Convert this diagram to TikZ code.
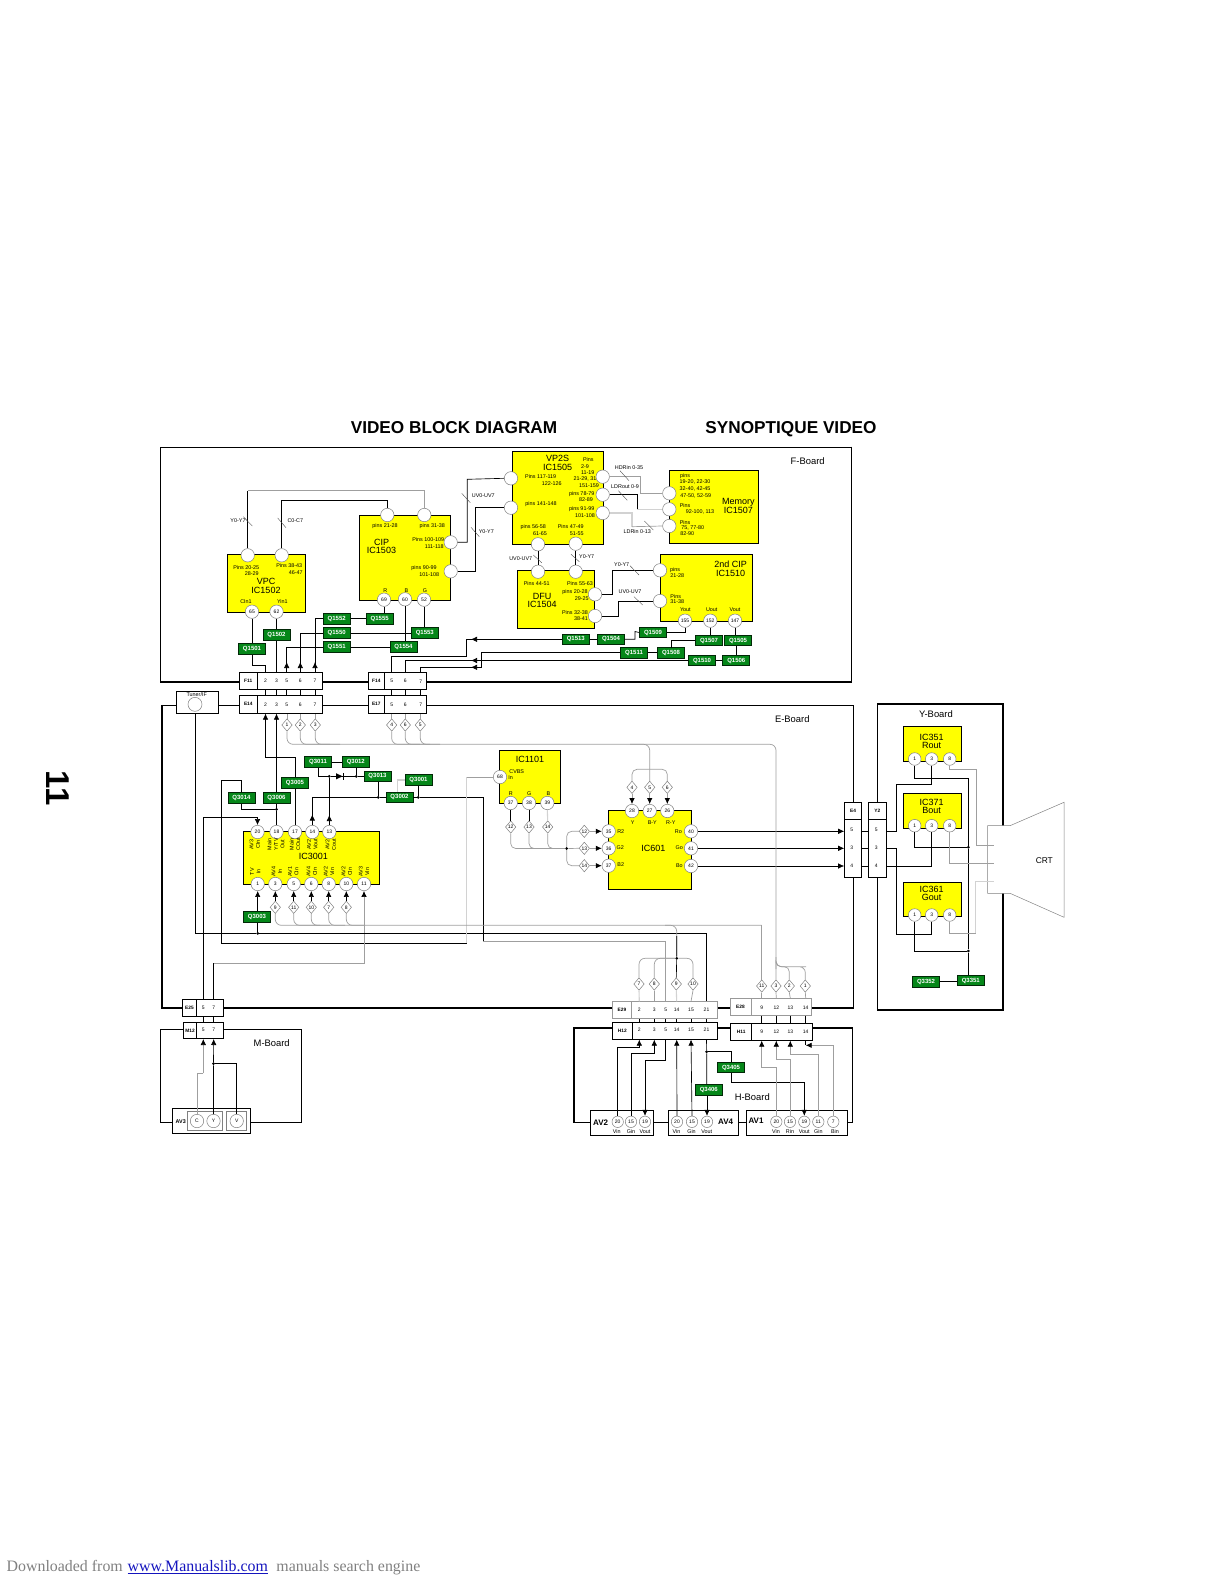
\documentclass[tikz,border=0pt]{standalone}
\usepackage{fontspec}
\setmainfont{Liberation Sans}
\newfontfamily\dlfont{Liberation Serif}
\usepackage{xcolor}
\usepackage{tikz}
\usetikzlibrary{shapes.geometric, arrows.meta, positioning}
\definecolor{icYellow}{RGB}{255, 255, 0}
\definecolor{qGreen}{RGB}{5, 135, 25}
\definecolor{linkBlue}{RGB}{20, 20, 190}
\tikzset{
  board/.style={
    rectangle, draw=black, line width=0.9pt, inner sep=0pt
  },
  thickedge/.style={
    draw=black, line width=1.7pt
  },
  icnode/.style={
    rectangle, draw=black, fill=icYellow, line width=1pt, inner sep=0pt
  },
  pinnode/.style={
    circle, draw=gray, fill=white, line width=0.5pt,
    minimum size=13.4pt, inner sep=0pt,
    font=\fontsize{5}{6}\selectfont
  },
  qnode/.style={
    rectangle, draw=black!70!qGreen, fill=qGreen, text=white, line width=0.7pt,
    minimum width=27pt, minimum height=10.6pt, inner sep=0pt,
    font=\fontsize{6}{6}\selectfont\bfseries
  },
  diamnode/.style={
    diamond, draw=gray, fill=white, line width=0.5pt,
    minimum width=10.5pt, minimum height=12.5pt, inner sep=0pt,
    font=\fontsize{5}{5}\selectfont
  },
  cell/.style={
    rectangle, draw=black, fill=white, line width=0.6pt, inner sep=0pt,
    font=\fontsize{4.8}{5}\selectfont\bfseries
  },
  greycell/.style={
    cell, draw=gray!80
  },
  connum/.style={
    inner sep=0pt, font=\fontsize{5}{6}\selectfont
  },
  dotnode/.style={
    circle, fill=black, minimum size=3pt, inner sep=0pt
  },
  smalltxt/.style={
    inner sep=0pt, align=center, font=\fontsize{5.4}{6.5}\selectfont
  },
  icname/.style={
    inner sep=0pt, align=center, font=\fontsize{9}{9}\selectfont
  },
  boardname/.style={
    inner sep=0pt, font=\fontsize{9.4}{10}\selectfont
  },
  titletxt/.style={
    inner sep=0pt, anchor=base, font=\fontsize{17.2}{18}\selectfont\bfseries
  },
  dltxt/.style={
    inner sep=0pt, anchor=base west, font=\dlfont\fontsize{15.9}{18}\selectfont, text=gray
  },
  wire/.style={
    draw=black, line width=0.65pt
  },
  greywire/.style={
    draw=gray!75, line width=0.7pt
  },
  palewire/.style={
    draw=gray!35, line width=1.1pt
  },
  slash/.style={
    draw=black!70, line width=0.4pt
  },
  tipwire/.style={
    wire, -{Latex[length=6pt,width=5.5pt]}
  },
  greytip/.style={
    greywire, -{Latex[length=6pt,width=5.5pt,black]}
  }
}
\begin{document}
\begin{tikzpicture}[x=1pt,y=-1pt]
  \useasboundingbox (0,0) rectangle (1224,1584);

  \node[titletxt] (title) at (454,433.2) {VIDEO BLOCK DIAGRAM};
  \node[titletxt] (titlefr) at (791,433.2) {SYNOPTIQUE VIDEO};
  \node[inner sep=0pt, rotate=-90, font=\fontsize{33}{33}\selectfont\bfseries] (pageno) at (58,788) {11};
  \node[dltxt] (dl) at (6.5,1571.5) {Downloaded from};
  \node[dltxt, text=linkBlue, right=4.5pt of dl.base east, anchor=base west] (dllink) {\underline{www.Manualslib.com}};
  \node[dltxt, right=8pt of dllink.base east, anchor=base west] (dlrest) {manuals search engine};

  \node[board, minimum width=691pt, minimum height=234.7pt] (fboard) at (505.5,564.3) {};
  \draw[thickedge] (fboard.north east) |- (fboard.south west);
  \node[board, minimum width=690.6pt, minimum height=302.4pt] (eboard) at (508,856.5) {};
  \draw[thickedge] (eboard.north west) |- (eboard.south east);
  \node[board, minimum width=124.6pt, minimum height=305.3pt] (yboard) at (940,856.6) {};
  \draw[thickedge] (yboard.south west) -| (yboard.north east) -- (yboard.north west);
  \node[board, minimum width=141pt, minimum height=92.6pt] (mboard) at (230.5,1076) {};
  \draw[thickedge] (mboard.north east) -- (mboard.south east);
  \node[board, minimum width=278pt, minimum height=93.6pt] (hboard) at (713.7,1075.5) {};
  \draw[thickedge] (hboard.south west) |- (hboard.north east);

  \node[boardname] (fname) at (807.7,461.3) {F-Board};
  \node[boardname] (ename) at (792.3,719) {E-Board};
  \node[boardname] (yname) at (936,714.3) {Y-Board};
  \node[boardname] (mname) at (271.7,1043.3) {M-Board};
  \node[boardname] (hname) at (752.3,1096.7) {H-Board};

  \node[icnode, minimum width=77.5pt, minimum height=57.5pt] (vpc) at (266.25,583.25) {};
  \node[icnode, minimum width=91.4pt, minimum height=85.4pt] (cip) at (405,558) {};
  \node[icnode, minimum width=91.3pt, minimum height=92.3pt] (vpps) at (557.65,497.85) {};
  \node[icnode, minimum width=89pt, minimum height=72.6pt] (memory) at (713.8,507) {};
  \node[icnode, minimum width=77pt, minimum height=57.6pt] (dfu) at (556.2,599.5) {};
  \node[icnode, minimum width=92.4pt, minimum height=66.7pt] (cipb) at (706.5,587.65) {};
  \node[icnode, minimum width=135.6pt, minimum height=52.6pt] (ica) at (311.5,858) {};
  \node[icnode, minimum width=61.3pt, minimum height=52.6pt] (icb) at (529.65,777) {};
  \node[icnode, minimum width=82.3pt, minimum height=78.6pt] (icc) at (649.85,850) {};
  \node[icnode, minimum width=58pt, minimum height=34.3pt] (icr) at (932.3,743.85) {};
  \node[icnode, minimum width=58pt, minimum height=34.7pt] (icbl) at (932.3,810.65) {};
  \node[icnode, minimum width=58pt, minimum height=34.4pt] (icg) at (932.3,899.5) {};

  \node[icname] (vpcname) at (266,586) {VPC\\[-0.5pt]IC1502};
  \node[icname] (cipname) at (381.5,546.5) {CIP\\[-0.5pt]IC1503};
  \node[icname] (vppsname) at (557.7,462.7) {VP2S\\[-0.5pt]IC1505};
  \node[icname] (memname) at (738.3,505.8) {Memory\\[0.5pt]IC1507};
  \node[icname] (dfuname) at (542.2,600.5) {DFU\\[-0.5pt]IC1504};
  \node[icname] (cipbname) at (730.7,568.7) {2nd CIP\\[-0.5pt]IC1510};
  \node[icname] (icaname) at (313.3,856.7) {IC3001};
  \node[icname] (icbname) at (530,759) {IC1101};
  \node[icname] (iccname) at (653.3,848) {IC601};
  \node[icname] (icrname) at (931.5,741.6) {IC351\\[-0.5pt]Rout};
  \node[icname] (icblname) at (931.7,806.6) {IC371\\[-0.5pt]Bout};
  \node[icname] (icgname) at (931.5,893.2) {IC361\\[-0.5pt]Gout};

  \node[smalltxt] (t1) at (246.3,567.3) {Pins 20-25};
  \node[smalltxt] (t2) at (251.7,573.3) {28-29};
  \node[smalltxt] (t3) at (289.3,566) {Pins 38-43};
  \node[smalltxt] (t4) at (295.7,573) {46-47};
  \node[smalltxt] (t5) at (246,602) {CIn1};
  \node[smalltxt] (t6) at (282.3,601.3) {Yin1};
  \node[smalltxt] (t7) at (385,526) {pins 21-28};
  \node[smalltxt] (t8) at (432.3,526) {pins 31-38};
  \node[smalltxt] (t9) at (428.3,540) {Pins 100-109};
  \node[smalltxt] (t10) at (434.3,547) {111-118};
  \node[smalltxt] (t11) at (424,568.3) {pins 90-99};
  \node[smalltxt] (t12) at (429.3,574.3) {101-108};
  \node[smalltxt] (t13) at (385.3,590.3) {R};
  \node[smalltxt] (t14) at (406.3,590.3) {B};
  \node[smalltxt] (t15) at (425,590.3) {G};
  \node[smalltxt] (t16) at (588.3,460) {Pins};
  \node[smalltxt] (t17) at (585,466.7) {2-9};
  \node[smalltxt] (t18) at (587.7,472.7) {11-19};
  \node[smalltxt] (t19) at (585,479) {21-29, 31};
  \node[smalltxt] (t20) at (589,485.3) {151-159};
  \node[smalltxt] (t21) at (540.7,476.3) {Pins 117-119};
  \node[smalltxt] (t22) at (551.7,483.7) {122-126};
  \node[smalltxt] (t23) at (541,504.3) {pins 141-148};
  \node[smalltxt] (t24) at (581.7,494.3) {pins 78-79};
  \node[smalltxt] (t25) at (586,500) {82-89};
  \node[smalltxt] (t26) at (581.7,509.3) {pins 91-99};
  \node[smalltxt] (t27) at (585,516) {101-108};
  \node[smalltxt] (t28) at (533.3,527.3) {pins 56-58};
  \node[smalltxt] (t29) at (540,533.7) {61-65};
  \node[smalltxt] (t30) at (570.7,527) {Pins 47-49};
  \node[smalltxt] (t31) at (576.7,533.3) {51-55};
  \node[smalltxt] (t32) at (685,476.3) {pins};
  \node[smalltxt] (t33) at (695,482) {19-20, 22-30};
  \node[smalltxt] (t34) at (695,489) {32-40, 42-45};
  \node[smalltxt] (t35) at (695.7,495.7) {47-50, 52-59};
  \node[smalltxt] (t36) at (685,506) {Pins};
  \node[smalltxt] (t37) at (700,511.7) {92-100, 113};
  \node[smalltxt] (t38) at (685,522.7) {Pins};
  \node[smalltxt] (t39) at (692.7,527.7) {75, 77-80};
  \node[smalltxt] (t40) at (687.3,534) {82-90};
  \node[smalltxt] (t41) at (536.7,584) {Pins 44-51};
  \node[smalltxt] (t42) at (580,583.3) {Pins 55-63};
  \node[smalltxt] (t43) at (575,592) {pins 20-28};
  \node[smalltxt] (t44) at (581.7,598.3) {29-25};
  \node[smalltxt] (t45) at (575,612.3) {Pins 32-38};
  \node[smalltxt] (t46) at (581,618.3) {38-41};
  \node[smalltxt] (t47) at (675,569.7) {pins};
  \node[smalltxt] (t48) at (677.3,575.3) {21-28};
  \node[smalltxt] (t49) at (675.7,596.3) {Pins};
  \node[smalltxt] (t50) at (677.3,601.7) {31-38};
  \node[smalltxt] (t51) at (685.3,610) {Yout};
  \node[smalltxt] (t52) at (711.7,610) {Uout};
  \node[smalltxt] (t53) at (735,609.3) {Vout};

  \node[smalltxt] (l1) at (238,521) {Y0-Y7};
  \node[smalltxt] (l2) at (295.3,521) {C0-C7};
  \node[smalltxt] (l3) at (483.3,496) {UV0-UV7};
  \node[smalltxt] (l4) at (486.3,531.7) {Y0-Y7};
  \node[smalltxt] (l5) at (629,467.3) {HDRin 0-35};
  \node[smalltxt] (l6) at (625,487) {LDRout 0-9};
  \node[smalltxt] (l7) at (637.3,532) {LDRin 0-13};
  \node[smalltxt] (l8) at (520.7,558.3) {UV0-UV7};
  \node[smalltxt] (l9) at (586.7,557) {Y0-Y7};
  \node[smalltxt] (l10) at (621.7,565) {Y0-Y7};
  \node[smalltxt] (l11) at (630,591.7) {UV0-UV7};

  \node[pinnode] (vpca) at (247.7,555.3) {};
  \node[pinnode] (vpcb) at (281.7,555.3) {};
  \node[pinnode] (p65) at (252,611.7) {65};
  \node[pinnode] (p62) at (276.5,611.7) {62};
  \node[pinnode] (cipa) at (387.3,515) {};
  \node[pinnode] (cipc) at (424.3,515) {};
  \node[pinnode] (cipd) at (450.7,542.3) {};
  \node[pinnode] (cipe) at (450.7,571.3) {};
  \node[pinnode] (p69) at (384,599.7) {69};
  \node[pinnode] (p60) at (405,599.3) {60};
  \node[pinnode] (p52) at (424,599.7) {52};
  \node[pinnode] (vppsa) at (511,478.3) {};
  \node[pinnode] (vppsb) at (511,507.7) {};
  \node[pinnode] (vppsc) at (602.7,476.7) {};
  \node[pinnode] (vppsd) at (602.7,494.7) {};
  \node[pinnode] (vppse) at (602.7,513) {};
  \node[pinnode] (vppsf) at (538,544.3) {};
  \node[pinnode] (vppsg) at (575.7,543.7) {};
  \node[pinnode] (mema) at (669.3,493.3) {};
  \node[pinnode] (memb) at (669.3,509.3) {};
  \node[pinnode] (memc) at (669.3,526) {};
  \node[pinnode] (dfua) at (538,571.7) {};
  \node[pinnode] (dfub) at (575.7,571.7) {};
  \node[pinnode] (dfuc) at (595,594.3) {};
  \node[pinnode] (dfud) at (595,616) {};
  \node[pinnode] (cipba) at (660,570.3) {};
  \node[pinnode] (cipbb) at (660,601) {};
  \node[pinnode] (p155) at (685,620.7) {155};
  \node[pinnode] (p152) at (710.3,620.7) {152};
  \node[pinnode] (p147) at (735,620.7) {147};

  \node[qnode] (q1501) at (252,649) {Q1501};
  \node[qnode] (q1502) at (276.5,635) {Q1502};
  \node[qnode] (q1552) at (336.7,618.6) {Q1552};
  \node[qnode] (q1550) at (336.7,633) {Q1550};
  \node[qnode] (q1551) at (336.7,647) {Q1551};
  \node[qnode] (q1555) at (379.7,618.6) {Q1555};
  \node[qnode] (q1553) at (424.8,633) {Q1553};
  \node[qnode] (q1554) at (403.5,647) {Q1554};
  \node[qnode] (q1513) at (575.8,639.3) {Q1513};
  \node[qnode] (q1504) at (611,639.3) {Q1504};
  \node[qnode] (q1509) at (653,632.5) {Q1509};
  \node[qnode] (q1507) at (709,640.5) {Q1507};
  \node[qnode] (q1505) at (738,640.5) {Q1505};
  \node[qnode] (q1511) at (634,652.7) {Q1511};
  \node[qnode] (q1508) at (671,652.7) {Q1508};
  \node[qnode] (q1510) at (702,660.5) {Q1510};
  \node[qnode] (q1506) at (736.3,660.5) {Q1506};

  \node[cell, minimum width=17.7pt, minimum height=16.7pt] (f11l) at (248.2,680.7) {F11};
  \node[cell, minimum width=65.7pt, minimum height=16.7pt] (f11) at (289.9,680.7) {};
  \node[connum] (f11n2) at (265.5,681) {2};
  \node[connum] (f11n3) at (276.5,681) {3};
  \node[connum] (f11n5) at (286.7,681) {5};
  \node[connum] (f11n6) at (300.3,681) {6};
  \node[connum] (f11n7) at (315,680.5) {7};
  \node[cell, minimum width=16pt, minimum height=16.7pt] (f14l) at (376.3,680.7) {F14};
  \node[cell, minimum width=42.4pt, minimum height=16.7pt] (f14) at (405.5,680.7) {};
  \node[connum] (f14n5) at (391.7,681) {5};
  \node[connum] (f14n6) at (405.3,681) {6};
  \node[connum] (f14n7) at (420.7,681.5) {7};
  \node[cell, minimum width=18pt, minimum height=18pt] (e14l) at (248.3,704.3) {E14};
  \node[cell, minimum width=65pt, minimum height=18pt] (e14) at (289.8,704.3) {};
  \node[connum] (e14n2) at (265.5,705) {2};
  \node[connum] (e14n3) at (276.5,705) {3};
  \node[connum] (e14n5) at (286.7,705) {5};
  \node[connum] (e14n6) at (300.3,705) {6};
  \node[connum] (e14n7) at (315,704.5) {7};
  \node[cell, minimum width=16pt, minimum height=18pt] (e17l) at (376.3,704.3) {E17};
  \node[cell, minimum width=42.4pt, minimum height=18pt] (e17) at (405.5,704.3) {};
  \node[connum] (e17n5) at (391.7,704.5) {5};
  \node[connum] (e17n6) at (405.3,705) {6};
  \node[connum] (e17n7) at (420.7,705) {7};

  \node[cell, minimum width=41.6pt, minimum height=22pt] (tuner) at (197.5,702.3) {};
  \node[connum, font=\fontsize{5.4}{6}\selectfont] (tunertxt) at (196.7,694.6) {Tuner/IF};
  \node[pinnode, minimum size=14pt] (tunerc) at (195,704.3) {};

  \node[cell, minimum width=14.4pt, minimum height=17.4pt] (e25l) at (189.5,1008) {E25};
  \node[cell, minimum width=27pt, minimum height=17.4pt] (e25) at (210.2,1008) {};
  \node[connum] (e25n5) at (203.3,1008) {5};
  \node[connum] (e25n7) at (213.7,1008) {7};
  \node[cell, minimum width=13.4pt, minimum height=16.4pt] (m12l) at (190,1030.5) {M12};
  \node[cell, minimum width=27pt, minimum height=16.4pt] (m12) at (210.2,1030.5) {};
  \node[connum] (m12n5) at (203.3,1030) {5};
  \node[connum] (m12n7) at (213.7,1030) {7};

  \node[greycell, minimum width=19.4pt, minimum height=17pt] (e29l) at (622,1010.2) {E29};
  \node[greycell, minimum width=85.6pt, minimum height=17pt] (e29) at (674.5,1010.2) {};
  \node[connum] (e29n2) at (639.3,1010) {2};
  \node[connum] (e29n3) at (654.3,1010) {3};
  \node[connum] (e29n5) at (665.7,1010) {5};
  \node[connum] (e29n14) at (676.7,1010) {14};
  \node[connum] (e29n15) at (691,1010) {15};
  \node[connum] (e29n21) at (706.5,1010) {21};
  \node[cell, minimum width=20pt, minimum height=17pt] (h12l) at (622.3,1030.8) {H12};
  \node[cell, minimum width=85pt, minimum height=17pt] (h12) at (674.8,1030.8) {};
  \node[connum] (h12n2) at (639.3,1030) {2};
  \node[connum] (h12n3) at (654.3,1030) {3};
  \node[connum] (h12n5) at (665.7,1030) {5};
  \node[connum] (h12n14) at (676.7,1030) {14};
  \node[connum] (h12n15) at (691,1030) {15};
  \node[connum] (h12n21) at (706.5,1030) {21};
  \node[greycell, minimum width=21pt, minimum height=17pt] (e28l) at (740.5,1006.8) {E28};
  \node[greycell, minimum width=60.3pt, minimum height=17pt] (e28) at (781.2,1006.8) {};
  \node[connum] (e28n9) at (761.7,1008) {9};
  \node[connum] (e28n12) at (776.3,1008) {12};
  \node[connum] (e28n13) at (790.3,1008) {13};
  \node[connum] (e28n14) at (805.7,1008) {14};
  \node[cell, minimum width=21pt, minimum height=17pt] (h11l) at (741.2,1031.8) {H11};
  \node[cell, minimum width=60.6pt, minimum height=17pt] (h11) at (782,1031.8) {};
  \node[connum] (h11n9) at (761.7,1032) {9};
  \node[connum] (h11n12) at (776.3,1032) {12};
  \node[connum] (h11n13) at (790.3,1032) {13};
  \node[connum] (h11n14) at (805.7,1032) {14};

  \node[cell, minimum width=17.2pt, minimum height=16.6pt] (e4l) at (853.1,811) {E4};
  \node[cell, minimum width=17.2pt, minimum height=58pt] (e4) at (853.1,848.3) {};
  \node[connum] (e4n5) at (851.7,830) {5};
  \node[connum] (e4n3) at (851.7,848) {3};
  \node[connum] (e4n4) at (851.7,865.7) {4};
  \node[cell, minimum width=18pt, minimum height=16.6pt] (y2l) at (877.3,811) {Y2};
  \node[cell, minimum width=18pt, minimum height=58pt] (y2) at (877.3,848.3) {};
  \node[connum] (y2n5) at (876.3,830) {5};
  \node[connum] (y2n3) at (876.3,848) {3};
  \node[connum] (y2n4) at (876.3,865.7) {4};

  \draw[wire] (vpca.north) -- (vpca.north |- 0,490.7);
  \draw[greywire] (vpca.north |- 0,490.7) -| (cipc.north);
  \draw[wire] (vpcb.north) |- (330,500.3) -| (cipa.north);
  \draw[wire] (cipd.east) -| (467.3,479.3) -- (vppsa.west);
  \draw[wire] (cipe.east) -| (475.3,507.7) -- (vppsb.west);
  \draw[wire] (vppsf.south) -- (dfua.north);
  \draw[wire] (vppsg.south) -- (dfub.north);
  \draw[greywire] (vppsc.east) -| (640.3,493.3) -- (mema.west);
  \draw[wire] (vppsd.east) -| (637.3,509.3);
  \draw[palewire] (637.3,509.3) -- (memb.west);
  \draw[palewire] (vppse.east) -| (632,526.7);
  \draw[greywire] (632,526.7) -- (memc.west);
  \draw[wire] (dfuc.east) -| (612.3,570.3) -- (cipba.west);
  \draw[wire] (dfud.east) -| (618.3,601) -- (cipbb.west);

  \draw[slash] (243.3,516.7) -- (252.3,526);
  \draw[slash] (277.7,518) -- (286,527.7);
  \draw[slash] (461.7,493.3) -- (470.3,502.7);
  \draw[slash] (471,527.3) -- (479.3,536.7);
  \draw[slash] (620,470.7) -- (629,480.7);
  \draw[slash] (618.3,490.7) -- (627.3,500.3);
  \draw[slash] (644.3,521) -- (653.3,530);
  \draw[slash] (533.3,555) -- (541.7,562.7);
  \draw[slash] (571,554.3) -- (579.3,561.7);
  \draw[slash] (630,565.7) -- (639,575);
  \draw[slash] (634,596.7) -- (642.7,605);

  \draw[wire] (p65.south) -- (q1501.north);
  \draw[wire] (q1501.south) |- (f11n2 |- 0,665) -- (f11n2 |- f11.north);
  \draw[wire] (p62.south) -- (q1502.north);
  \draw[wire] (q1502.south) -- (f11n3 |- f11.north);
  \draw[wire] (q1551.west) -| (f11n5 |- f11.north);
  \draw[wire] (q1550.west) -| (f11n6 |- f11.north);
  \draw[wire] (q1552.west) -| (f11n7 |- f11.north);
  \draw[tipwire] (f11n5 |- f11.north) -- (f11n5 |- 0,662);
  \draw[tipwire] (f11n6 |- f11.north) -- (f11n6 |- 0,662);
  \draw[tipwire] (f11n7 |- f11.north) -- (f11n7 |- 0,662);
  \draw[wire] (q1552.east) -- (q1555.west);
  \draw[wire] (q1550.east) -- (q1553.west);
  \draw[wire] (q1551.east) -- (q1554.west);
  \draw[wire] (p69.south) -- (p69.south |- q1555.north);
  \draw[wire] (p60.south) -- (p60.south |- q1554.north);
  \draw[wire] (p52.south) -- (p52.south |- q1553.north);
  \draw[wire] (q1513.west) -| (466.7,656.3) -| (f14n5 |- f14.north);
  \draw[wire] (q1510.west) -| (f14n6 |- f14.north);
  \draw[wire] (q1511.west) -| (481.3,667.3) -| (f14n7 |- f14.north);
  \draw[tipwire] (478,639.3) -- (471,639.3);
  \draw[tipwire] (478,660.5) -- (471,660.5);
  \draw[tipwire] (478,667.3) -- (471,667.3);
  \draw[wire] (q1513.east) -- (q1504.west);
  \draw[wire] (q1504.east) -| (635,631.5) -- (q1509.west);
  \draw[wire] (p155.south) |- (q1509.east);
  \draw[wire] (p152.south) -- (p152.south |- q1507.north);
  \draw[wire] (p147.south) -- (p147.south |- q1505.north);
  \draw[wire] (q1507.west) -| (671.3,647) -- (q1508.north -| 671.3,0);
  \draw[wire] (q1508.west) -- (q1511.east);
  \draw[wire] (q1506.north |- q1505.south) -- (q1506.north);
  \draw[wire] (q1506.west) -- (q1510.east);

  \draw[wire] (f11n2 |- f11.south) -- (e14n2 |- e14.north);
  \draw[wire] (f11n3 |- f11.south) -- (e14n3 |- e14.north);
  \draw[wire] (f11n5 |- f11.south) -- (e14n5 |- e14.north);
  \draw[wire] (f11n6 |- f11.south) -- (e14n6 |- e14.north);
  \draw[wire] (f11n7 |- f11.south) -- (e14n7 |- e14.north);
  \draw[wire] (f14n5 |- f14.south) -- (e17n5 |- e17.north);
  \draw[wire] (f14n6 |- f14.south) -- (e17n6 |- e17.north);
  \draw[wire] (f14n7 |- f14.south) -- (e17n7 |- e17.north);

  \node[diamnode] (dn1) at (287,725) {1};
  \node[diamnode] (dn2) at (300.3,725) {2};
  \node[diamnode] (dn3) at (315.3,725) {3};
  \node[diamnode] (dn4) at (391.7,725) {4};
  \node[diamnode] (dn6) at (405.3,725) {6};
  \node[diamnode] (dn5) at (420.3,725) {5};

  \node[pinnode] (p20) at (257.5,832) {20};
  \node[pinnode] (p18) at (276.5,832) {18};
  \node[pinnode] (p17) at (295,832) {17};
  \node[pinnode] (p14) at (312.3,832) {14};
  \node[pinnode] (p13) at (329.3,832) {13};
  \node[pinnode] (p1) at (257.7,884) {1};
  \node[pinnode] (p3) at (275.3,884) {3};
  \node[pinnode] (p5) at (293.7,884) {5};
  \node[pinnode] (p6) at (311.3,884) {6};
  \node[pinnode] (p8) at (328.7,884) {8};
  \node[pinnode] (p10) at (346.3,884) {10};
  \node[pinnode] (p11) at (364,884) {11};
  \node[smalltxt, rotate=90] (r1) at (254.7,844.3) {AV3\\CIn};
  \node[smalltxt, rotate=90] (r2) at (276,844.3) {Main\\Y/TV\\Out};
  \node[smalltxt, rotate=90] (r3) at (295,844.3) {Main\\COut};
  \node[smalltxt, rotate=90] (r4) at (312.3,844.3) {AV2\\Vout};
  \node[smalltxt, rotate=90] (r5) at (330.7,844.3) {AV2\\Cout};
  \node[smalltxt, rotate=90] (r6) at (255.3,871.7) {TV\\In};
  \node[smalltxt, rotate=90] (r7) at (276.7,871.7) {AV4\\In};
  \node[smalltxt, rotate=90] (r8) at (293.3,871.7) {AV1\\CIn};
  \node[smalltxt, rotate=90] (r9) at (311.7,871.7) {AV4\\CIn};
  \node[smalltxt, rotate=90] (r10) at (329,871.7) {AV2\\Vin};
  \node[smalltxt, rotate=90] (r11) at (346.7,871.7) {AV2\\CIn};
  \node[smalltxt, rotate=90] (r12) at (364,871.7) {AV3\\Vin};

  \node[diamnode] (da9) at (275.3,907.3) {9};
  \node[diamnode] (da11) at (293.7,907.3) {11};
  \node[diamnode] (da10) at (311.3,907.3) {10};
  \node[diamnode] (da7) at (328.7,907.3) {7};
  \node[diamnode] (da8) at (346.3,907.3) {8};

  \node[qnode] (q3011) at (318,762) {Q3011};
  \node[qnode] (q3012) at (355.8,762) {Q3012};
  \node[qnode] (q3013) at (377.5,776.3) {Q3013};
  \node[qnode] (q3001) at (418.5,780) {Q3001};
  \node[qnode] (q3002) at (399.5,797.3) {Q3002};
  \node[qnode] (q3005) at (295,783) {Q3005};
  \node[qnode] (q3006) at (276.5,798) {Q3006};
  \node[qnode] (q3014) at (241.5,798) {Q3014};
  \node[qnode] (q3003) at (257,917) {Q3003};

  \node[dotnode] (dota) at (329.3,776.3) {};
  \node[dotnode] (dotb) at (356.3,776.3) {};
  \node[dotnode] (dotc) at (378.3,797.3) {};
  \node[dotnode] (dotd) at (418.3,797.3) {};
  \node[dotnode] (dote) at (276.5,809.3) {};
  \node[dotnode] (dotf) at (257.7,933.3) {};

  \draw[greywire] (dn1.north) -- (dn1.north |- e14.south);
  \draw[greywire] (dn2.north) -- (dn2.north |- e14.south);
  \draw[greywire] (dn3.north) -- (dn3.north |- e14.south);
  \draw[greywire] (dn4.north) -- (dn4.north |- e17.south);
  \draw[greywire] (dn6.north) -- (dn6.north |- e17.south);
  \draw[greywire] (dn5.north) -- (dn5.north |- e17.south);

  \draw[wire, -{Latex[length=6pt,width=5.5pt]}] (q3005.north) |- (e14n2 |- 0,757.3) -- (e14n2 |- e14.south);
  \draw[wire] (q3005.south) -- (p17.north);
  \draw[tipwire] (q3006.north) -- (e14n3 |- e14.south);
  \draw[wire] (q3006.south) -- (dote) -- (p18.north);
  \draw[wire] (q3014.south) |- (dote);
  \draw[wire] (q3014.north) |- (221.7,780.3) |- (466.7,943.3);
  \draw[tipwire] (e25n5 |- e25.north) |- (240,817.3) -| (p20.north);
  \draw[wire] (e25n7 |- e25.north) -- (e25n7 |- 0,963.3);
  \draw[greytip] (e25n7 |- 0,963.3) -| (p11.south);
  \draw[wire] (tunerc |- tuner.south) |- (dotf) -| (e29n21 |- e29.north);
  \draw[wire] (dotf |- q3003.south) -- (dotf);
  \draw[tipwire] (dotf |- q3003.north) -- (p1.south);
  \draw[wire] (q3011.east) -- (q3012.west);
  \draw[wire] (q3011.south) |- (dota) -- (dotb) -- (q3013.west);
  \draw[wire] (q3012.south -| dotb) -- (dotb);
  \fill[black] (336,773.2) -- (342.5,776.3) -- (336,779.4) -- cycle;
  \draw[wire] (343,773) -- (343,779.6);
  \draw[wire] (dota) -- (p13.north);
  \draw[tipwire] (p13.north) -- (p13.north |- 0,815);
  \draw[wire] (p14.north) |- (dotc) -- (q3002.west);
  \draw[tipwire] (p14.north) -- (p14.north |- 0,814.5);
  \draw[wire] (q3013.south -| dotc) -- (dotc);
  \draw[wire] (q3002.east) -- (dotd) -- (483.3,797.3);
  \draw[wire] (483.3,797.3) -- (483.3,941.7);
  \draw[greywire] (483.3,941.7) -| (e29n5 |- e29.north);
  \draw[wire] (q3001.south -| dotd) -- (dotd);
  \draw[palewire] (397.7,791.9) |- (q3001.west);

  \draw[tipwire] (da9.north) -- (p3.south);
  \draw[tipwire] (da11.north) -- (p5.south);
  \draw[tipwire] (da10.north) -- (p6.south);
  \draw[tipwire] (da7.north) -- (p8.south);
  \draw[tipwire] (da8.north) -- (p10.south);

  \node[pinnode] (p68) at (500,777) {68};
  \node[pinnode] (p37) at (510.7,803) {37};
  \node[pinnode] (p38) at (529,803) {38};
  \node[pinnode] (p39) at (547.3,803) {39};
  \node[smalltxt] (cvbs) at (516.7,772) {CVBS};
  \node[smalltxt] (cvin) at (510.7,778) {In};
  \node[smalltxt] (ttr) at (510.7,793.3) {R};
  \node[smalltxt] (ttg) at (529.3,793.3) {G};
  \node[smalltxt] (ttb) at (548.3,793.3) {B};
  \node[diamnode] (dr12) at (510.7,827) {12};
  \node[diamnode] (dr13) at (529,827) {13};
  \node[diamnode] (dr14) at (547.7,827) {14};
  \node[diamnode] (ds12) at (584.3,831.3) {12};
  \node[diamnode] (ds13) at (584.3,848.3) {13};
  \node[diamnode] (ds14) at (584.3,865.7) {14};
  \node[dotnode] (dotg) at (566.7,848.5) {};
  \node[pinnode] (p35) at (608.7,831.3) {35};
  \node[pinnode] (p36) at (608.7,848.3) {36};
  \node[pinnode] (p37b) at (608.7,865.7) {37};
  \node[pinnode] (p28) at (632,811) {28};
  \node[pinnode] (p27) at (649.7,811) {27};
  \node[pinnode] (p26) at (667.3,811) {26};
  \node[pinnode] (p40) at (691,831.3) {40};
  \node[pinnode] (p41) at (691,848.3) {41};
  \node[pinnode] (p42) at (691,866) {42};
  \node[smalltxt] (tty) at (632.7,822.7) {Y};
  \node[smalltxt] (ttby) at (652.3,822.7) {B-Y};
  \node[smalltxt] (ttry) at (670.7,823) {R-Y};
  \node[smalltxt] (ttr2) at (620.7,831.7) {R2};
  \node[smalltxt] (ttg2) at (620.3,848) {G2};
  \node[smalltxt] (ttb2) at (620.7,864.7) {B2};
  \node[smalltxt] (ttro) at (678.3,831.7) {Ro};
  \node[smalltxt] (ttgo) at (679.3,848) {Go};
  \node[smalltxt] (ttbo) at (679.3,865.7) {Bo};
  \node[diamnode] (dt4) at (632,787.3) {4};
  \node[diamnode] (dt5) at (649.7,787.3) {5};
  \node[diamnode] (dt6) at (667.3,787.3) {6};

  \draw[palewire] (466.7,943.3) -- (466.7,777);
  \draw[greywire] (466.7,777) -- (p68.west);
  \draw[wire] (p37.south) -- (dr12.north);
  \draw[wire] (p38.south) -- (dr13.north);
  \draw[palewire] (p39.south) -- (dr14.north);
  \draw[greywire, rounded corners=5pt] (dr12.south) |- (dotg);
  \draw[greywire, rounded corners=5pt] (dr13.south) |- (dotg);
  \draw[greywire, rounded corners=5pt] (dr14.south) |- (dotg);
  \draw[greywire, rounded corners=5pt] (dotg) |- (ds12.west);
  \draw[greywire, rounded corners=5pt] (dotg) |- (ds14.west);
  \draw[greywire] (dotg) -- (ds13.west);
  \draw[greytip] (ds12.east) -- (p35.west);
  \draw[greytip] (ds13.east) -- (p36.west);
  \draw[greytip] (ds14.east) -- (p37b.west);
  \draw[greytip] (dt4.south) -- (p28.north);
  \draw[greytip] (dt5.south) -- (p27.north);
  \draw[greytip] (dt6.south) -- (p26.north);
  \draw[tipwire] (p40.east) -- (e4.west |- p40.east);
  \draw[tipwire] (p41.east) -- (e4.west |- p41.east);
  \draw[tipwire] (p42.east) -- (e4.west |- p42.east);
  \draw[wire] (e4.east |- p40.east) -- (y2.west |- p40.east);
  \draw[wire] (e4.east |- p41.east) -- (y2.west |- p41.east);
  \draw[wire] (e4.east |- p42.east) -- (y2.west |- p42.east);

  \node[diamnode] (du7) at (639,984) {7};
  \node[diamnode] (du8) at (654.3,984) {8};
  \node[diamnode] (du9) at (676.3,984) {9};
  \node[diamnode] (du10) at (693,984) {10};
  \node[dotnode] (doth) at (676.7,958.3) {};
  \node[diamnode] (dv11) at (761.7,986) {11};
  \node[diamnode] (dv3) at (776,986) {3};
  \node[diamnode] (dv2) at (789.3,986) {2};
  \node[diamnode] (dv1) at (805.3,986) {1};

  \draw[greywire, rounded corners=6pt] (dn1.south) |- (776,744.3) -- (dv3.north);
  \draw[greywire, rounded corners=6pt] (dn2.south) |- (330,744.3);
  \draw[greywire, rounded corners=6pt] (dn3.south) |- (340,744.3);
  \draw[greywire, rounded corners=6pt] (dn4.south) |- (420,744.3);
  \draw[greywire, rounded corners=6pt] (dn6.south) |- (430,744.3);
  \draw[greywire, rounded corners=6pt] (dn5.south) |- (440,744.3);
  \draw[greywire, rounded corners=6pt] (630,744.3) -| (dt5.north);
  \draw[greywire, rounded corners=5pt] (dt5 |- 0,769.3) -| (dt4.north);
  \draw[greywire, rounded corners=5pt] (dt5 |- 0,769.3) -| (dt6.north);
  \draw[greywire, rounded corners=6pt] (dv3 |- 0,961) -- (776,963) |- (800,966.7) -| (dv1.north);
  \draw[greywire, rounded corners=5pt] (776,963) |- (789.3,966.7) -- (dv2.north);
  \draw[greywire, rounded corners=6pt] (da9.south) |- (761.7,925.3);
  \draw[greywire] (761.7,925.3) -- (dv11.north);
  \draw[greywire, rounded corners=6pt] (da11.south) |- (320,925.3);
  \draw[greywire, rounded corners=6pt] (da10.south) |- (330,925.3);
  \draw[greywire, rounded corners=6pt] (da7.south) |- (345,925.3);
  \draw[greywire, rounded corners=6pt] (da8.south) |- (365,925.3);
  \draw[greywire, rounded corners=6pt] (665,925.3) -| (doth);
  \draw[wire] (676.7,936) -- (doth) -- (du9.north);
  \draw[greywire, rounded corners=6pt] (doth) -| (du7.north);
  \draw[greywire, rounded corners=6pt] (doth) -| (du8.north);
  \draw[greywire, rounded corners=6pt] (doth) -| (du10.north);
  \draw[palewire] (du7.south) -- (e29n2 |- e29.north);
  \draw[greywire] (du8.south) -- (e29n3 |- e29.north);
  \draw[palewire] (du9.south) -- (e29n14 |- e29.north);
  \draw[greywire] (du10.south) -- (e29n15 |- e29.north);
  \draw[greywire] (dv11.south) -- (e28n9 |- e28.north);
  \draw[greywire] (dv3.south) -- (e28n12 |- e28.north);
  \draw[greywire] (dv2.south) -- (e28n13 |- e28.north);
  \draw[greywire] (dv1.south) -- (e28n14 |- e28.north);

  \draw[wire] (e25n5 |- e25.south) -- (m12n5 |- m12.north);
  \draw[wire] (e25n7 |- e25.south) -- (m12n7 |- m12.north);
  \draw[wire] (e29n2 |- e29.south) -- (h12n2 |- h12.north);
  \draw[wire] (e29n3 |- e29.south) -- (h12n3 |- h12.north);
  \draw[wire] (e29n5 |- e29.south) -- (h12n5 |- h12.north);
  \draw[wire] (e29n14 |- e29.south) -- (h12n14 |- h12.north);
  \draw[wire] (e29n15 |- e29.south) -- (h12n15 |- h12.north);
  \draw[wire] (e29n21 |- e29.south) -- (h12n21 |- h12.north);
  \draw[wire] (e28n9 |- e28.south) -- (h11n9 |- h11.north);
  \draw[wire] (e28n12 |- e28.south) -- (h11n12 |- h11.north);
  \draw[wire] (e28n13 |- e28.south) -- (h11n13 |- h11.north);
  \draw[wire] (e28n14 |- e28.south) -- (h11n14 |- h11.north);

  \node[cell, minimum width=78.4pt, minimum height=25pt] (av3) at (211.5,1120.8) {};
  \node[connum, font=\fontsize{5.4}{6}\selectfont\bfseries] (av3txt) at (180.7,1121.3) {AV3};
  \node[rectangle, draw=gray, line width=0.5pt, minimum width=34.7pt, minimum height=18.7pt] (av3a) at (204.6,1120.4) {};
  \node[rectangle, draw=gray, line width=0.5pt, minimum width=19.7pt, minimum height=18.7pt] (av3b) at (236.1,1120.4) {};
  \node[pinnode, fill=none] (avc) at (197,1121) {C};
  \node[pinnode, fill=none] (avy) at (213.5,1121) {Y};
  \node[pinnode, fill=none] (avv) at (236.7,1121) {V};
  \node[dotnode] (doti) at (213.5,1063.7) {};
  \draw[greywire] (avc.north) |- (m12n5 |- 0,1073.3);
  \draw[greytip] (m12n5 |- 0,1073.3) -- (m12n5 |- m12.south);
  \draw[tipwire] (avy.north) -- (doti) -- (m12n7 |- m12.south);
  \draw[wire] (doti) -| (avv.north);

  \node[cell, minimum width=63.4pt, minimum height=25.3pt] (av2) at (622,1122.7) {};
  \node[cell, minimum width=69.7pt, minimum height=25.3pt] (av4) at (703.2,1122.7) {};
  \node[cell, minimum width=101pt, minimum height=25.3pt] (av1) at (796.8,1122.7) {};
  \node[connum, font=\fontsize{8}{9}\selectfont\bfseries] (av2txt) at (600.7,1122.3) {AV2};
  \node[connum, font=\fontsize{8}{9}\selectfont\bfseries] (av4txt) at (725.7,1121.7) {AV4};
  \node[connum, font=\fontsize{8}{9}\selectfont\bfseries] (av1txt) at (756,1121) {AV1};
  \node[pinnode, minimum size=11.4pt] (a220) at (617.7,1121.8) {20};
  \node[pinnode, minimum size=11.4pt] (a215) at (631,1121.8) {15};
  \node[pinnode, minimum size=11.4pt] (a219) at (645,1121.8) {19};
  \node[pinnode, minimum size=11.4pt] (a420) at (677,1121.8) {20};
  \node[pinnode, minimum size=11.4pt] (a415) at (692,1121.8) {15};
  \node[pinnode, minimum size=11.4pt] (a419) at (707,1121.8) {19};
  \node[pinnode, minimum size=11.4pt] (a120) at (776.3,1121.8) {20};
  \node[pinnode, minimum size=11.4pt] (a115) at (790,1121.8) {15};
  \node[pinnode, minimum size=11.4pt] (a119) at (804.3,1121.8) {19};
  \node[pinnode, minimum size=11.4pt] (a111) at (818.3,1121.8) {11};
  \node[pinnode, minimum size=11.4pt] (a17) at (833.3,1121.8) {7};
  \node[smalltxt] (v1) at (616.7,1131.3) {Vin};
  \node[smalltxt] (v2) at (631,1131.3) {Gin};
  \node[smalltxt] (v3) at (645,1131.3) {Vout};
  \node[smalltxt] (v4) at (676.5,1131.3) {Vin};
  \node[smalltxt] (v5) at (691.5,1131.3) {Gin};
  \node[smalltxt] (v6) at (706.7,1131.3) {Vout};
  \node[smalltxt] (v7) at (776,1131.3) {Vin};
  \node[smalltxt] (v8) at (790,1131.3) {Rin};
  \node[smalltxt] (v9) at (804.3,1131.3) {Vout};
  \node[smalltxt] (v10) at (818.3,1131.3) {Gin};
  \node[smalltxt] (v11) at (835,1131.3) {Bin};
  \node[qnode] (q3405) at (731,1067.5) {Q3405};
  \node[qnode] (q3406) at (708.8,1090) {Q3406};
  \node[dotnode] (dotj) at (706.7,1051.7) {};

  \draw[tipwire] (a220.north) |- (h12n2 |- 0,1047.3) -- (h12n2 |- h12.south);
  \draw[tipwire] (a215.north) |- (h12n3 |- 0,1053.3) -- (h12n3 |- h12.south);
  \draw[tipwire] (h12n5 |- h12.south) |- (a219 |- 0,1060) -- (a219.north);
  \draw[tipwire] (a420.north) -- (h12n14 |- h12.south);
  \draw[tipwire] (a415.north) -- (h12n15 |- h12.south);
  \draw[wire] (h12n21 |- h12.south) -- (dotj) -- (dotj |- q3406.north);
  \draw[wire] (dotj) -| (q3405.north);
  \draw[tipwire] (a419 |- q3406.south) -- (a419.north);
  \draw[tipwire] (q3405.south) |- (a119 |- 0,1082.7) -- (a119.north);
  \draw[greytip] (a120.north) |- (h11n9 |- 0,1067.7) -- (h11n9 |- h11.south);
  \draw[greytip] (a115.north) |- (h11n12 |- 0,1059) -- (h11n12 |- h11.south);
  \draw[greytip] (a111.north) |- (h11n13 |- 0,1054) -- (h11n13 |- h11.south);
  \draw[greywire] (a17.north) |- (810,1045.3);
  \draw[greytip] (815,1045.3) -- (805.7,1045.3);
  \draw[wire] (h11n14 |- h11.south) -- (805.7,1045.3);

  \draw[draw=gray, line width=0.5pt, fill=white] (987.7,825.7) -- (1010,825.7) -- (1064,802.3) -- (1064,917.3) -- (1010,893.3) -- (987.7,893.3) -- cycle;
  \node[inner sep=0pt, font=\fontsize{8.4}{9}\selectfont] (crt) at (1044.3,861) {CRT};
  \node[pinnode, minimum size=12.6pt] (r1p) at (914.7,759) {1};
  \node[pinnode, minimum size=12.6pt] (r3p) at (931.7,759) {3};
  \node[pinnode, minimum size=12.6pt] (r8p) at (949.7,759) {8};
  \node[pinnode, minimum size=12.6pt] (b1p) at (914.7,825.7) {1};
  \node[pinnode, minimum size=12.6pt] (b3p) at (931.7,825.7) {3};
  \node[pinnode, minimum size=12.6pt] (b8p) at (949.7,825.7) {8};
  \node[pinnode, minimum size=12.6pt] (g1p) at (914.7,915) {1};
  \node[pinnode, minimum size=12.6pt] (g3p) at (931.7,915) {3};
  \node[pinnode, minimum size=12.6pt] (g8p) at (949.7,915) {8};
  \node[dotnode] (dotk) at (968.3,847.3) {};
  \node[dotnode] (dotl) at (968.3,951) {};
  \node[qnode] (q3352) at (926,981.7) {Q3352};
  \node[qnode] (q3351) at (970.8,980.5) {Q3351};

  \draw[wire] (r1p.south) |- (968.3,778.3) -- (dotk) -- (dotl) -- (dotl |- q3351.north);
  \draw[wire] (r3p.south) |- (896.7,784) |- (y2.east |- p40.east);
  \draw[wire] (b1p.south) |- (dotk);
  \draw[wire] (b3p.south) |- (y2.east |- p42.east);
  \draw[wire] (g1p.south) |- (dotl);
  \draw[wire] (g3p.south) |- (896.7,934.3) |- (y2.east |- p41.east);
  \draw[greywire] (r8p.south) |- (976.7,769) |- (994.3,845.3);
  \draw[greywire] (b8p.south) |- (994,863.3);
  \draw[greywire] (g8p.south) |- (975.7,933.3);
  \draw[palewire] (975.7,933.3) |- (994.3,881.3);
  \draw[wire] (q3352.east) -- (q3351.west |- q3352.east);
\end{tikzpicture}
\end{document}
